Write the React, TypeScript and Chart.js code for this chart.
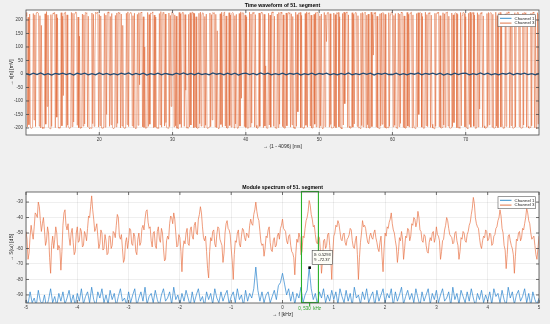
import React, { useEffect, useRef } from 'react';
import { Chart, registerables } from 'chart.js';

Chart.register(...registerables);

const FONT = '"Liberation Sans", Arial, sans-serif';

// ---------- Top subplot: time waveform ----------
const TOP_TITLE = 'Time waveform of 51. segment';
const TOP_X_LABEL = '→ (1 - 4096) [ms]';
const TOP_Y_LABEL = '→ s[n] [mV]';
const TIME_START = 10;
const TIME_END = 80;
const TOP_Y_MIN = -226;
const TOP_Y_MAX = 237;
const TOP_X_TICKS = [20, 30, 40, 50, 60, 70];
const TOP_Y_TICKS = [-200, -150, -100, -50, 0, 50, 100, 150, 200];

const CH3_TIME = [
  215, 228, -196, 210, -188, 222, -199, -201, -200, -198, 224, -170, 219, -195, 226, 229, 227, 225, -193, 216,
  -200, 180, -197, -202, -199, -201, 223, -186, 231, -120, 218, -198, -200, -203, 220, -194, 212, 226, 224, 228,
  -199, 221, -160, 208, -197, -201, -199, -200, 227, -192, 214, -80, 225, 227, 229, -198, 219, -189, -196, -201,
  -200, -198, 228, -195, 225, -178, 217, 226, 230, 224, -190, 211, -199, 140, -201, -197, -200, 222, -193, 219,
  -185, 228, 225, 227, -196, 214, -200, -202, -199, -201, 226, -184, 221, -194, 60, 229, 224, 228, 226, -197,
  220, -191, 215, -200, -201, -198, -200, 224, -197, 218, -150, 227, 230, 225, -194, 213, -188, 224, -199, -202,
  -200, -198, 217, -196, 226, -183, 229, 225, 227, -200, 222, -193, 180, -198, -201, -199, -200, 225, -187, 230,
  -195, 219, 226, 228, 224, -192, 216, -199, 225, -200, -202, -198, 221, -190, 227, -40, 223, 229, 226, -196,
  212, -198, 100, -201, -200, -199, 228, -194, 220, -186, 226, 224, 227, 230, -199, 218, -197, 211, -200, -201,
  -198, -202, 224, -188, 231, -197, 215, 228, 225, -193, 222, -180, -199, -200, -201, 226, -195, 217, -120, 229,
  227, 224, -196, 219, -192, 214, -201, -199, -203, 228, -186, 223, -198, 226, 229, 225, -194, 220, -60, -200,
  -198, -201, 221, -196, 227, -189, 216, 230, 226, -199, 224, -197, 212, -200, -202, -199, 225, -184, 229, -193,
  218, 227, 225, -198, 213, -190, 222, -200, -201, -199, -197, 226, -195, 220, -170, 228, 224, 227, -196, 221,
  -199, 160, -200, -202, -198, 223, -187, 229, -196, 217, 226, 230, -193, 215, -200, -201, -199, 227, -191, 219,
  -197, 225, 228, 224, -200, 216, -185, 221, -199, -201, -198, 224, -193, 230, -90, 226, 227, 225, -195, 218,
  -198, 212, -201, -200, -199, 229, -196, 222, -182, 227, 225, 229, -197, 220, -190, -200, -202, -198, 226, -194,
  217, 228, 226, 224, -199, 221, -193, 30, -200, -201, -198, 225, -189, 218, -197, 227, 230, 226, -194, 214,
  -200, -199, -202, 222, -198, 228, -186, 225, 229, 224, -195, 219, -199, -201, -200, 226, -192, 216, 228, 225,
  227, -197, 223, -188, 213, -200, -198, -202, 229, -194, 220, -140, 226, 224, 228, -199, 217, -195, -201, -199,
  -200, 224, -190, 230, -197, 226, 225, 227, -193, 218, -200, -201, -198, 221, -186, 227, -196, 229, 226, 224,
  -198, 215, -192, 222, -200, -202, -199, 228, -195, 219, 120, 225, 229, 226, -197, 223, -187, -200, -201, -198,
  226, -194, 220, -199, 227, 224, 228, -196, 212, -200, -199, -203, 224, -189, 229, -110, 225, 227, 230, -198,
  219, -193, -200, -201, -199, 227, -197, 221, -185, 226, 228, 225, -194, 216, -200, -198, -202, 225, -191, 228,
  -196, 224, 226, 229, -199, 218, -188, 222, -200, -201, -199, 229, -195, 220, 70, 227, 224, 228, -197, 214,
  -199, -200, -202, 223, -192, 226, -186, 228, 225, -198, 221, -200, -201, -197, -199, 227, -194, 219, 226, 230,
  225, -196, 217, -190, 224, -200, -199, -202, 226, -195, 222, -183, 229, 226, 224, -198, 215, -200, -201, -199,
  228, -193, 221, -197, 225, 227, 229, -199, 219, -189, -200, -202, -198, 224, -196, 227, -150, 226, 228, 225,
  -197, 213, -200, -201, -199, 229, -191, 220, -195, 226, 224, 228, -198, 218, -186, -200, -199, -203, 225, -194,
  222, 227, 225, 229, -196, 216, -199, -201, -198, 227, -189, 223, -197, 228, 226, 230, -193, 214, -200, -202,
  -199, 226, -195, 219, -180, 224, 227, 225, -199, 221, -200, -198, -201, 228, -192, 217, 226, 229, 224, -196,
  212, -199, -200, -202, 225, -187, 229, -197, 222, 226, 228, -194, 218, -201, -199, -200, 227, -196, 220, -130,
  226, 224, 229, -198, 215, -192, -200, -201, -199, 224, -195, 228, -188, 225, 227, 226, -197, 221, -200, -202,
  -198, 229, -193, 216, -199, 226, 225, 228, -196, 219, -185, -201, -199, -200, 223, -194, 227, 224, 230, 226,
  -199, 218, -191, 222, -200, -202, -198, 227, -196, 213, 225, 229, 226, -195, 220, -200, -201, -199, 226, -189,
  228, 224, 227, -197, 217, -194, -200, -201, -198, 225, -192, 221, 229, 226, -199, 215, -200, -202, 227, -186,
  222,
];

const CH1_TIME = [
  1, -3, 3, -2, 4, -3, 1, -4, 2, -1, 3, -2, 2, -4, 3, -1, 3, -3, 1, -3,
  4, -2, 2, -3, 1, -3, 3, -1, 4, -3, 2, -2, 3, -4, 1, -2, 3, -3, 2, -1,
  -3, 3, -1, 4, -2, 2, -3, 3, -2, 1, -3, 4, -1, 2, -3, 3, -2, 3, -4, 1,
  3, -2, 2, -3, 4, -1, 3, -3, 1, -2, 3, -3, 2, -1, 3, -4, 1, -2, 3, -3,
  2, -1, 3, -3, 1, -3, 2, -2, 4, -3, 1, -2, 3, -1, 3, -4, 2, -1, 3, -2,
  -2, 3, -3, 1, -3, 2, -1, 4, -3, 2, -1, 3, -2, 3, -4, 1, -3, 3, -2, 2,
  3, -3, 1, -2, 4, -2, 3, -3, 1, -3, 2, -1, 4, -3, 2, -1, 3, -2, 1, -3,
  2,
];

// ---------- Bottom subplot: module spectrum ----------
const BOT_TITLE = 'Module spectrum of 51. segment';
const BOT_X_LABEL = '→ f [kHz]';
const BOT_Y_LABEL = '→ S(ω) [dB]';
const FREQ_START = -5;
const FREQ_END = 5;
const BOT_Y_MIN = -95.2;
const BOT_Y_MAX = -23.5;
const BOT_X_TICKS = [-5, -4, -3, -2, -1, 0, 1, 2, 3, 4, 5];
const BOT_Y_TICKS = [-90, -80, -70, -60, -50, -40, -30];

const CH3_SPEC = [
  -49, -54, -67, -63, -52, -45, -50, -54, -46, -37, -38, -40, -30, -33, -42, -49, -44, -40, -48, -58, -55, -46, -50, -66, -76, -58, -52, -60, -54, -46, -50, -61, -58, -60, -74, -62, -45, -37, -35, -45, -48, -44, -53, -58, -50, -47, -56, -64, -62, -50,
  -46, -56, -55, -47, -49, -59, -58, -49, -51, -55, -47, -39, -40, -33, -26, -35, -41, -49, -47, -44, -52, -60, -57, -48, -50, -61, -60, -51, -55, -64, -63, -52, -52, -60, -58, -49, -50, -53, -45, -38, -40, -52, -54, -51, -60, -69, -67, -56, -53, -60,
  -55, -47, -48, -57, -58, -50, -52, -62, -64, -54, -50, -58, -56, -47, -45, -48, -41, -36, -35, -43, -47, -46, -55, -59, -50, -49, -58, -60, -49, -46, -54, -56, -47, -50, -60, -68, -67, -55, -52, -54, -44, -39, -40, -44, -37, -41, -50, -59, -58, -51,
  -53, -62, -75, -60, -55, -57, -50, -47, -57, -58, -48, -46, -52, -54, -45, -43, -50, -51, -41, -38, -33, -37, -46, -53, -55, -52, -62, -73, -79, -62, -53, -55, -49, -48, -57, -59, -51, -46, -47, -54, -56, -58, -69, -63, -50, -44, -42, -47, -48, -51,
  -60, -68, -80, -64, -55, -56, -50, -48, -57, -59, -52, -47, -48, -53, -55, -50, -51, -53, -45, -41, -44, -45, -38, -35, -30, -36, -40, -42, -49, -56, -58, -57, -65, -60, -52, -53, -48, -46, -56, -61, -62, -55, -53, -59, -58, -52, -50, -54, -47, -45,
  -41, -47, -48, -49, -55, -57, -52, -51, -58, -62, -63, -66, -77, -63, -54, -56, -50, -53, -64, -62, -52, -53, -47, -42, -40, -36, -29, -32, -38, -41, -46, -45, -51, -56, -57, -52, -53, -62, -76, -68, -55, -54, -60, -58, -51, -50, -58, -66, -80, -63,
  -52, -50, -45, -46, -42, -44, -49, -54, -55, -51, -50, -56, -58, -54, -53, -51, -47, -48, -55, -59, -60, -55, -52, -64, -80, -66, -56, -50, -42, -46, -45, -47, -52, -56, -57, -52, -50, -53, -54, -50, -48, -53, -56, -60, -62, -56, -52, -65, -75, -60,
  -50, -52, -46, -47, -43, -41, -37, -44, -48, -50, -55, -59, -69, -62, -53, -55, -49, -54, -67, -60, -52, -53, -47, -48, -55, -52, -44, -45, -40, -41, -46, -43, -36, -40, -48, -49, -55, -56, -51, -52, -58, -62, -63, -56, -53, -55, -50, -49, -56, -53,
  -46, -51, -52, -55, -67, -62, -55, -54, -48, -45, -40, -42, -47, -51, -52, -53, -57, -56, -50, -49, -55, -58, -67, -62, -53, -54, -49, -50, -55, -56, -51, -49, -45, -43, -38, -34, -27, -31, -40, -44, -46, -47, -53, -58, -60, -55, -52, -53, -48, -49,
  -55, -54, -50, -51, -58, -57, -52, -51, -47, -46, -42, -40, -35, -39, -47, -50, -58, -61, -73, -64, -52, -51, -55, -58, -60, -64, -76, -65, -54, -55, -50, -49, -55, -53, -47, -48, -44, -40, -34, -37, -42, -44, -50, -54, -53, -52, -58, -64, -67, -60,
  -52,
];

const CH1_SPEC = [
  -93, -96, -88, -95, -92, -97, -87, -94, -96, -90, -98, -93, -86, -95, -91, -97, -89, -94, -88, -96, -92, -87, -95, -90, -97,
  -89, -94, -86, -96, -91, -88, -95, -85, -93, -97, -88, -92, -86, -95, -90, -96, -87, -93, -89, -97, -91, -86, -94, -92, -96,
  -88, -95, -90, -86, -97, -92, -88, -94, -85, -96, -91, -89, -95, -87, -93, -97, -90, -86, -94, -92, -88, -96, -85, -93, -90,
  -96, -89, -94, -87, -92, -97, -88, -95, -90, -86, -94, -91, -97, -88, -93, -89, -96, -86, -92, -95, -88, -94, -90, -87, -96,
  -91, -88, -95, -86, -93, -90, -97, -87, -94, -89, -92, -86, -72, -87, -94, -88, -95, -90, -88, -95, -91, -87, -93, -84, -82,
  -76, -83, -90, -86, -94, -88, -96, -89, -92, -85, -95, -90, -87, -72.4, -86, -93, -89, -96, -88, -92, -86, -95, -90, -94, -87,
  -93, -88, -96, -86, -91, -95, -87, -94, -89, -97, -85, -92, -90, -96, -88, -93, -86, -95, -91, -88, -97, -87, -94, -90, -86,
  -95, -89, -92, -86, -97, -88, -94, -90, -85, -96, -91, -87, -93, -89, -95, -86, -92, -97, -88, -94, -90, -86, -96, -89, -93,
  -87, -95, -90, -86, -94, -92, -88, -97, -85, -93, -89, -96, -87, -91, -95, -88, -94, -86, -92, -97, -89, -93, -87, -95, -90,
  -94, -88, -96, -86, -91, -89, -95, -87, -93, -97, -85, -92, -88, -96, -90, -87, -94, -91, -86, -95, -89, -97, -88, -93, -96,
  -92,
];

const CURSOR_F = 0.5293;
const CURSOR_DB = -72.37;
const CURSOR_TEXT = ['X: 0.5293', 'Y: -72.37'];
const BAND_F = [0.37, 0.7];
const BAND_LABEL = '0, 530  kHz';

const LEGEND_NAMES = ['Channel 1', 'Channel 3'];
const BLUE = '#0072BD';
const ORANGE = '#D95319';
const GRID = 'rgba(38,38,38,0.13)';
const TICK_COLOR = '#3a3a3a';
const LABEL_COLOR = '#262626';

const tickFont = { family: FONT, size: 4.5 };
const labelFont = { family: FONT, size: 5 };

function toXY(values: number[], start: number, end: number) {
  const step = (end - start) / (values.length - 1);
  return values.map((v, i) => ({ x: start + i * step, y: v }));
}

function xAxis(min: number, max: number, ticks: number[], title: string, height: number, titlePad: number) {
  return {
    type: 'linear',
    min,
    max,
    afterBuildTicks: (s: any) => {
      s.ticks = ticks.map((value) => ({ value }));
    },
    afterFit: (s: any) => {
      s.height = height;
    },
    grid: { color: GRID, lineWidth: 0.6, drawTicks: false },
    border: { display: false },
    ticks: { padding: 2.3, font: tickFont, color: TICK_COLOR, maxRotation: 0, autoSkip: false },
    title: { display: true, text: title, font: labelFont, color: LABEL_COLOR, padding: { top: 0, bottom: titlePad } },
  };
}

function yAxis(min: number, max: number, ticks: number[], title: string) {
  return {
    type: 'linear',
    min,
    max,
    afterBuildTicks: (s: any) => {
      s.ticks = ticks.map((value) => ({ value }));
    },
    afterFit: (s: any) => {
      s.width = 26;
    },
    grid: { color: GRID, lineWidth: 0.6, drawTicks: false },
    border: { display: false },
    ticks: { padding: 3, font: tickFont, color: TICK_COLOR, autoSkip: false },
    title: { display: true, text: title, font: labelFont, color: LABEL_COLOR, padding: { top: 8.5, bottom: 0 } },
  };
}

function matlabPlugin(title: string, extra?: (chart: any) => void) {
  return {
    id: 'matlabAxes',
    beforeDraw(chart: any) {
      const { ctx, chartArea: a } = chart;
      ctx.save();
      ctx.fillStyle = '#ffffff';
      ctx.fillRect(a.left, a.top, a.right - a.left, a.bottom - a.top);
      ctx.restore();
    },
    afterDraw(chart: any) {
      const { ctx, chartArea: a, scales } = chart;
      ctx.save();
      if (extra) extra(chart);
      ctx.strokeStyle = '#4a4a4a';
      ctx.lineWidth = 0.8;
      ctx.strokeRect(a.left, a.top, a.right - a.left, a.bottom - a.top);
      ctx.beginPath();
      scales.x.ticks.forEach((t: any) => {
        const px = scales.x.getPixelForValue(t.value);
        ctx.moveTo(px, a.bottom);
        ctx.lineTo(px, a.bottom - 3);
        ctx.moveTo(px, a.top);
        ctx.lineTo(px, a.top + 3);
      });
      scales.y.ticks.forEach((t: any) => {
        const py = scales.y.getPixelForValue(t.value);
        ctx.moveTo(a.left, py);
        ctx.lineTo(a.left + 3, py);
        ctx.moveTo(a.right, py);
        ctx.lineTo(a.right - 3, py);
      });
      ctx.stroke();
      ctx.fillStyle = '#000';
      ctx.font = `bold 5.2px ${FONT}`;
      ctx.textAlign = 'center';
      ctx.textBaseline = 'middle';
      ctx.fillText(title, (a.left + a.right) / 2, a.top - 4.3);
      const lx = a.right - 41;
      const ly = a.top + 4.7;
      ctx.fillStyle = '#ffffff';
      ctx.fillRect(lx, ly, 37.5, 12);
      ctx.strokeStyle = '#5a5a5a';
      ctx.lineWidth = 0.6;
      ctx.strokeRect(lx, ly, 37.5, 12);
      const colors = [BLUE, ORANGE];
      ctx.font = `4.4px ${FONT}`;
      ctx.textAlign = 'left';
      LEGEND_NAMES.forEach((name, i) => {
        const ry = ly + 3.6 + i * 4.8;
        ctx.strokeStyle = colors[i];
        ctx.lineWidth = 0.8;
        ctx.beginPath();
        ctx.moveTo(lx + 2, ry);
        ctx.lineTo(lx + 13.5, ry);
        ctx.stroke();
        ctx.fillStyle = '#222';
        ctx.fillText(name, lx + 16.5, ry);
      });
      ctx.restore();
    },
  };
}

function bandAndTip(chart: any) {
  const { ctx, chartArea: a, scales } = chart;
  const x0 = scales.x.getPixelForValue(BAND_F[0]);
  const x1 = scales.x.getPixelForValue(BAND_F[1]);
  const xc = scales.x.getPixelForValue(CURSOR_F);
  const yc = scales.y.getPixelForValue(CURSOR_DB);
  ctx.strokeStyle = 'rgb(40,175,40)';
  ctx.lineWidth = 1.1;
  ctx.strokeRect(x0, a.top - 0.5, x1 - x0, a.bottom - a.top);
  ctx.beginPath();
  ctx.moveTo(xc, a.bottom - 1);
  ctx.lineTo(xc, a.bottom + 3);
  ctx.stroke();
  ctx.fillStyle = 'rgb(40,160,40)';
  ctx.font = `4.5px ${FONT}`;
  ctx.textAlign = 'center';
  ctx.textBaseline = 'middle';
  ctx.fillText(BAND_LABEL, xc, a.bottom + 5.3);
  ctx.fillStyle = '#000';
  ctx.fillRect(xc - 1.3, yc - 1.3, 2.6, 2.6);
  const bx = xc + 2.5;
  const by = yc - 17;
  ctx.fillStyle = '#fdfdf6';
  ctx.fillRect(bx, by, 20.5, 14);
  ctx.strokeStyle = '#444';
  ctx.lineWidth = 0.6;
  ctx.strokeRect(bx, by, 20.5, 14);
  ctx.fillStyle = '#111';
  ctx.font = `4px ${FONT}`;
  ctx.textAlign = 'left';
  ctx.fillText(CURSOR_TEXT[0], bx + 1.5, by + 4.3);
  ctx.fillText(CURSOR_TEXT[1], bx + 1.5, by + 9.6);
}

function topConfig(): any {
  return {
    type: 'line',
    data: {
      datasets: [
        {
          label: LEGEND_NAMES[0],
          data: toXY(CH1_TIME, TIME_START, TIME_END),
          borderColor: 'rgb(35,75,115)',
          borderWidth: 1.3,
          pointRadius: 0,
          tension: 0,
        },
        {
          label: LEGEND_NAMES[1],
          data: toXY(CH3_TIME, TIME_START, TIME_END),
          borderColor: 'rgba(224,98,45,0.5)',
          borderWidth: 1,
          pointRadius: 0,
          tension: 0,
        },
      ],
    },
    options: {
      animation: false,
      responsive: false,
      devicePixelRatio: 1,
      layout: { padding: { left: 0, right: 11, top: 10, bottom: 0 } },
      plugins: { legend: { display: false }, tooltip: { enabled: false }, title: { display: false } },
      scales: {
        x: xAxis(TIME_START, TIME_END, TOP_X_TICKS, TOP_X_LABEL, 25, 10),
        y: yAxis(TOP_Y_MIN, TOP_Y_MAX, TOP_Y_TICKS, TOP_Y_LABEL),
      },
    },
    plugins: [matlabPlugin(TOP_TITLE)],
  };
}

function bottomConfig(): any {
  return {
    type: 'line',
    data: {
      datasets: [
        {
          label: LEGEND_NAMES[0],
          data: toXY(CH1_SPEC, FREQ_START, FREQ_END),
          borderColor: 'rgb(40,130,205)',
          borderWidth: 0.7,
          pointRadius: 0,
          tension: 0,
        },
        {
          label: LEGEND_NAMES[1],
          data: toXY(CH3_SPEC, FREQ_START, FREQ_END),
          borderColor: 'rgb(232,115,70)',
          borderWidth: 0.7,
          pointRadius: 0,
          tension: 0,
        },
      ],
    },
    options: {
      animation: false,
      responsive: false,
      devicePixelRatio: 1,
      layout: { padding: { left: 0, right: 11, top: 32, bottom: 0 } },
      plugins: { legend: { display: false }, tooltip: { enabled: false }, title: { display: false } },
      scales: {
        x: xAxis(FREQ_START, FREQ_END, BOT_X_TICKS, BOT_X_LABEL, 21, 6),
        y: yAxis(BOT_Y_MIN, BOT_Y_MAX, BOT_Y_TICKS, BOT_Y_LABEL),
      },
    },
    plugins: [matlabPlugin(BOT_TITLE, bandAndTip)],
  };
}

export default function App() {
  const topRef = useRef<HTMLCanvasElement>(null);
  const botRef = useRef<HTMLCanvasElement>(null);
  useEffect(() => {
    const c1 = new Chart(topRef.current as HTMLCanvasElement, topConfig());
    const c2 = new Chart(botRef.current as HTMLCanvasElement, bottomConfig());
    return () => {
      c1.destroy();
      c2.destroy();
    };
  }, []);
  return (
    <div style={{ position: 'fixed', left: 0, top: 0, width: 550, height: 324, background: '#f0f0f0' }}>
      <canvas
        ref={topRef}
        width={550}
        height={160}
        style={{ position: 'absolute', left: 0, top: 0, width: 550, height: 160 }}
      />
      <canvas
        ref={botRef}
        width={550}
        height={164}
        style={{ position: 'absolute', left: 0, top: 160, width: 550, height: 164 }}
      />
    </div>
  );
}
